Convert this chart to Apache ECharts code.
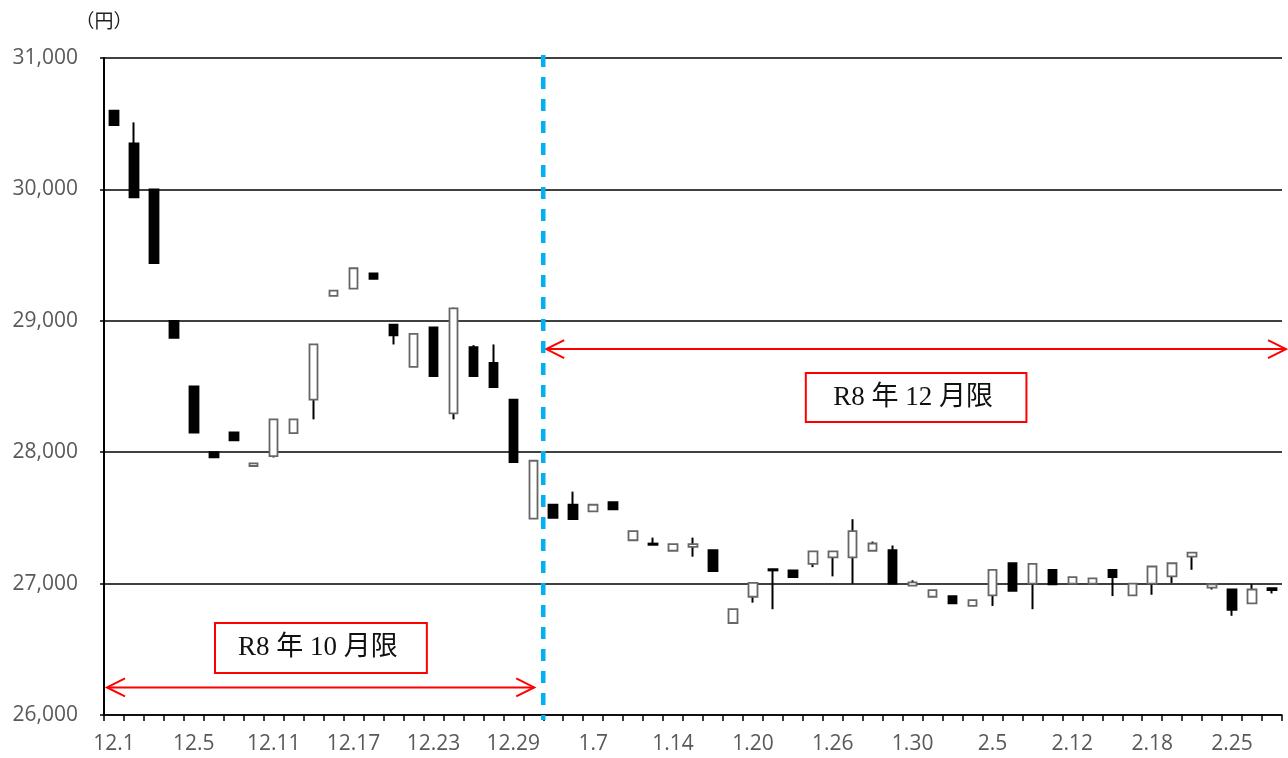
<!DOCTYPE html>
<html>
<head>
<meta charset="utf-8">
<script src="https://cdn.jsdelivr.net/npm/echarts@6/dist/echarts.min.js"></script>
<style>
html,body{margin:0;padding:0;background:#fff;}
#main{width:1288px;height:758px;}
</style>
</head>
<body>
<div id="main"></div>
<script>
// ---- data ----
const dates = ['12.1','12.2','12.3','12.4','12.5','12.8','12.9','12.10','12.11','12.12',
  '12.15','12.16','12.17','12.18','12.19','12.22','12.23','12.24','12.25','12.26',
  '12.29','12.30','1.5','1.6','1.7','1.8','1.9','1.13','1.14','1.15',
  '1.16','1.19','1.20','1.21','1.22','1.23','1.26','1.27','1.28','1.29',
  '1.30','2.2','2.3','2.4','2.5','2.6','2.9','2.10','2.12','2.13',
  '2.16','2.17','2.18','2.19','2.20','2.24','2.25','2.26','2.27'];
const openP = [30600,30350,30000,29000,28500,28000,28150,27895,27970,28145,
  28400,29190,29245,29360,28970,28650,28950,28295,28800,28680,
  28400,27495,27600,27600,27550,27620,27330,27305,27250,27280,
  27255,26700,26900,27110,27100,27150,27200,27200,27250,27255,
  26985,26900,26905,26830,26910,27155,27000,27105,27000,27000,
  27105,26910,27000,27055,27205,26970,26955,26850,26965];
const closeP = [30490,29940,29440,28870,28150,27960,28090,27915,28250,28250,
  28820,29230,29400,29320,28890,28900,28580,29095,28580,28495,
  27925,27935,27500,27490,27600,27565,27400,27295,27300,27300,
  27095,26805,27005,27100,27050,27245,27245,27400,27305,27000,
  27010,26950,26850,26875,27105,26945,27150,26995,27050,27040,
  27050,27000,27130,27155,27235,26995,26800,26955,26950];
const highP = [30600,30510,30000,29000,28500,28000,28150,27915,28250,28250,
  28820,29230,29400,29360,28970,28900,28950,29100,28815,28820,
  28400,27935,27600,27700,27600,27620,27400,27350,27300,27350,
  27255,26805,27005,27110,27100,27245,27245,27490,27320,27290,
  27025,26950,26905,26875,27105,27155,27150,27105,27050,27040,
  27105,27000,27130,27155,27235,26995,26955,26995,26965];
const lowP = [30490,29940,29440,28870,28150,27960,28090,27895,27960,28145,
  28250,29190,29245,29320,28820,28650,28580,28250,28580,28495,
  27925,27495,27500,27490,27550,27565,27330,27295,27250,27205,
  27095,26700,26855,26805,27050,27125,27055,27000,27250,27000,
  26985,26900,26850,26830,26830,26945,26805,26995,27000,27000,
  26905,26910,26915,27005,27105,26955,26755,26850,26925];
const yTicks = [26000, 27000, 28000, 29000, 30000, 31000];
const unitLabel = '（円）';
const contract1 = 'R8 年 10 月限';
const contract2 = 'R8 年 12 月限';

// ---- build ----
const wickData = dates.map((d, i) => [openP[i], closeP[i], lowP[i], highP[i]]);
const bodyData = dates.map((d, i) => [openP[i], closeP[i], Math.min(openP[i], closeP[i]), Math.max(openP[i], closeP[i])]);

const chart = echarts.init(document.getElementById('main'), null, {renderer: 'canvas'});
const labelFont = '"Open Sans", "Noto Sans", sans-serif';

chart.setOption({
  animation: false,
  backgroundColor: '#fff',
  grid: {left: 104, right: 6, top: 58, bottom: 43, containLabel: false},
  xAxis: {
    type: 'category',
    data: dates,
    boundaryGap: true,
    axisLine: {show: true, lineStyle: {color: '#000', width: 1.5}},
    axisTick: {show: true, interval: 0, length: 6, lineStyle: {color: '#000', width: 1.5}},
    axisLabel: {interval: 3, color: '#595959', fontSize: 21, fontFamily: labelFont, margin: 19},
    splitLine: {show: false}
  },
  yAxis: {
    type: 'value',
    min: yTicks[0],
    max: yTicks[yTicks.length - 1],
    interval: 1000,
    axisLine: {show: true, lineStyle: {color: '#000', width: 2}},
    axisTick: {show: true, length: 4, lineStyle: {color: '#000', width: 1.5}},
    axisLabel: {
      color: '#595959', fontSize: 21, fontFamily: labelFont, margin: 26,
      formatter: v => v.toLocaleString('en-US')
    },
    splitLine: {show: true, lineStyle: {color: '#000', width: 1.5}}
  },
  series: [
    {
      type: 'candlestick',
      name: 'wick',
      data: wickData,
      barWidth: 1,
      itemStyle: {color: '#000', color0: '#000', borderColor: '#000', borderColor0: '#000', borderColorDoji: '#000', borderWidth: 2},
      z: 2
    },
    {
      type: 'candlestick',
      name: 'body',
      data: bodyData,
      barWidth: 9,
      itemStyle: {color: '#fff', color0: '#000', borderColor: '#666', borderColor0: '#000', borderColorDoji: '#666', borderWidth: 1.8},
      z: 3
    }
  ]
});

// ---- annotations positioned with the chart's own scales ----
function px(i) { return chart.convertToPixel({xAxisIndex: 0}, i); }
function py(v) { return chart.convertToPixel({yAxisIndex: 0}, v); }
const w = px(1) - px(0);
const leftEdge = px(0) - w / 2;
const rightEdge = px(dates.length - 1) + w / 2;
const splitX = (px(21) + px(22)) / 2;
const yTop = py(31000), yBot = py(26000);
const red = '#ff0000';

function arrow(x1, x2, y) {
  const h = 18, hw = 9;
  return [
    {type: 'line', shape: {x1: x1, y1: y, x2: x2, y2: y}, style: {stroke: red, lineWidth: 2}, z: 10},
    {type: 'polyline', shape: {points: [[x1 + h, y - hw], [x1, y], [x1 + h, y + hw]]}, style: {stroke: red, lineWidth: 2, fill: null}, z: 10},
    {type: 'polyline', shape: {points: [[x2 - h, y - hw], [x2, y], [x2 - h, y + hw]]}, style: {stroke: red, lineWidth: 2, fill: null}, z: 10}
  ];
}
function box(xa, xb, ya, yb, txt) {
  return [
    {type: 'rect', shape: {x: xa, y: ya, width: xb - xa, height: yb - ya}, style: {fill: '#fff', stroke: red, lineWidth: 2}, z: 10},
    {type: 'text', x: (xa + xb) / 2 - 3, y: (ya + yb) / 2,
      style: {text: txt, fill: '#111', fontSize: 27, fontFamily: '"Liberation Serif", "Noto Sans CJK JP", serif', align: 'center', verticalAlign: 'middle'}, z: 11}
  ];
}

const graphics = [].concat(
  [{type: 'line', shape: {x1: splitX, y1: yTop - 3, x2: splitX, y2: yBot + 5},
    style: {stroke: '#00b0f0', lineWidth: 4.5, lineDash: [12, 10]}, z: 12}],
  arrow(leftEdge + 3, splitX - 9, py(26210)),
  arrow(splitX + 3, rightEdge + 4, py(28785)),
  box(leftEdge + 5.56 * w, leftEdge + 16.17 * w, py(26700), py(26320), contract1),
  box(leftEdge + 35.15 * w, leftEdge + 46.2 * w, py(28603), py(28230), contract2),
  [{type: 'text', x: leftEdge, y: 21,
    style: {text: unitLabel, fill: '#222', fontSize: 19, fontFamily: '"Noto Sans CJK JP", sans-serif', align: 'center', verticalAlign: 'middle'}, z: 10}]
);
chart.setOption({graphic: graphics});
</script>
</body>
</html>
